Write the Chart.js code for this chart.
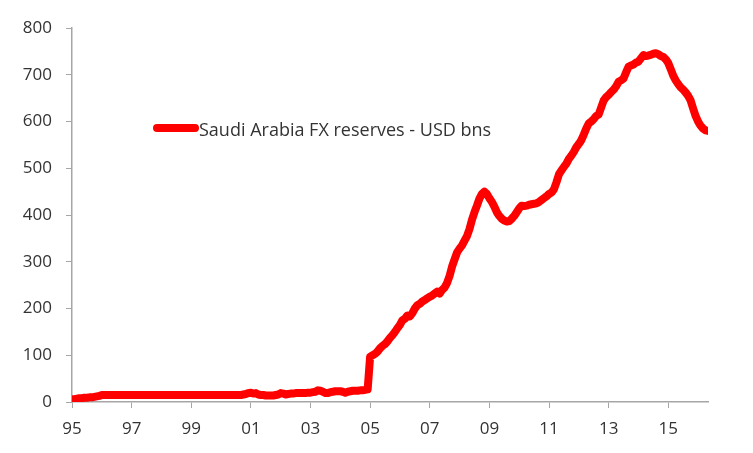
<!DOCTYPE html>
<html>
<head>
<meta charset="utf-8">
<script src="https://cdn.jsdelivr.net/npm/chart.js@4.4.0/dist/chart.umd.min.js"></script>
<style>
  html, body { margin: 0; padding: 0; background: #fff; }
  #wrap { width: 753px; height: 453px; }
</style>
</head>
<body>
<div id="wrap"><canvas id="fxChart"></canvas></div>
<script>
// Monthly reserves, Jan 1995 .. May 2016 (USD bn)
const seriesLabel = 'Saudi Arabia FX reserves - USD bns';
const reserves = [
    6, 6, 7, 8, 8, 9, 9, 10, 10, 11, 12, 13,                 // 1995
    15, 15, 15, 15, 15, 15, 15, 15, 15, 15, 15, 15,           // 1996
    15, 15, 15, 15, 15, 15, 15, 15, 15, 15, 15, 15,           // 1997
    15, 15, 15, 15, 15, 15, 15, 15, 15, 15, 15, 15,           // 1998
    15, 15, 15, 15, 15, 15, 15, 15, 15, 15, 15, 15,           // 1999
    15, 15, 15, 15, 15, 15, 15, 15, 15, 16, 17, 19,           // 2000
    20, 18, 19, 16, 15, 15, 14, 14, 14, 14, 15, 16,           // 2001
    19, 18, 16, 17, 18, 18, 19, 19, 19, 19, 19, 20,           // 2002
    20, 21, 22, 25, 24, 22, 19, 19, 21, 22, 23, 23,           // 2003
    23, 22, 20, 22, 23, 24, 24, 24, 25, 25, 26, 27,           // 2004
    97, 100, 103, 108, 115, 120, 124, 130, 137, 143, 150, 158, // 2005
    165, 175, 178, 185, 183, 190, 200, 207, 210, 215, 218, 222, // 2006
    225, 228, 232, 236, 232, 240, 245, 255, 270, 290, 305, 320, // 2007
    328, 335, 345, 355, 370, 390, 406, 420, 435, 445, 450, 445, // 2008
    436, 428, 418, 406, 398, 392, 388, 386, 387, 392, 398, 406, // 2009
    414, 420, 419, 420, 422, 423, 424, 425, 428, 432, 436, 440, // 2010
    445, 448, 455, 470, 487, 495, 503, 510, 520, 527, 535, 545, // 2011
    552, 560, 572, 585, 596, 600, 605, 612, 615, 630, 645, 652, // 2012
    657, 663, 668, 675, 685, 688, 692, 705, 717, 720, 722, 726, // 2013
    728, 735, 742, 740, 741, 743, 745, 746, 744, 740, 738, 733, // 2014
    725, 712, 698, 688, 680, 673, 668, 662, 655, 645, 628, 612, // 2015
    600, 591, 585, 581, 580                                    // 2016
];
// x tick every 24 months, labelled with two-digit year
const xTickMonths = [0, 24, 48, 72, 96, 120, 144, 168, 192, 216, 240];
const xTickLabels = ['95', '97', '99', '01', '03', '05', '07', '09', '11', '13', '15'];
const yMax = 800;
const yStep = 100;

const axisGrey = '#a6a6a6';
const textGrey = '#333333';
const fontFamily = '"Open Sans", "Noto Sans", sans-serif';

// Legend sits inside the plot area, so draw it by hand
const insideLegend = {
    id: 'insideLegend',
    afterDraw(chart, args, opts) {
        const ctx = chart.ctx;
        const ds = chart.data.datasets[0];
        ctx.save();
        ctx.strokeStyle = ds.borderColor;
        ctx.lineWidth = ds.borderWidth;
        ctx.lineCap = 'round';
        ctx.beginPath();
        ctx.moveTo(opts.x, opts.y);
        ctx.lineTo(opts.x + opts.lineLength, opts.y);
        ctx.stroke();
        ctx.fillStyle = textGrey;
        ctx.font = opts.fontSize + 'px ' + fontFamily;
        ctx.textBaseline = 'middle';
        ctx.fillText(ds.label, opts.x + opts.lineLength + 4, opts.y + 3);
        ctx.restore();
    }
};

const ctx = document.getElementById('fxChart').getContext('2d');
new Chart(ctx, {
    type: 'line',
    data: {
        datasets: [{
            label: seriesLabel,
            data: reserves.map((v, i) => ({ x: i, y: v })),
            borderColor: '#ff0000',
            borderWidth: 8,
            borderCapStyle: 'round',
            borderJoinStyle: 'round',
            pointRadius: 0,
            tension: 0,
            fill: false
        }]
    },
    options: {
        responsive: true,
        maintainAspectRatio: false,
        animation: false,
        layout: { padding: { top: 28, right: 45, left: 0, bottom: 0 } },
        scales: {
            x: {
                type: 'linear',
                min: 0,
                max: reserves.length - 1,
                afterBuildTicks(scale) {
                    scale.ticks = xTickMonths.map(v => ({ value: v }));
                },
                afterFit(scale) { scale.height = 51; },
                ticks: {
                    callback: (v) => xTickLabels[xTickMonths.indexOf(v)],
                    color: textGrey,
                    font: { family: fontFamily, size: 17 },
                    padding: 11,
                    maxRotation: 0
                },
                grid: { drawOnChartArea: false, tickLength: 6, color: axisGrey },
                border: { color: axisGrey, width: 1.5 }
            },
            y: {
                min: 0,
                max: yMax,
                ticks: {
                    stepSize: yStep,
                    color: textGrey,
                    font: { family: fontFamily, size: 17 },
                    padding: 14
                },
                afterFit(scale) { scale.width = 72; },
                grid: { drawOnChartArea: false, tickLength: 6, color: axisGrey },
                border: { color: axisGrey, width: 1.5 }
            }
        },
        plugins: {
            legend: { display: false },
            tooltip: { enabled: false },
            insideLegend: { x: 157, y: 128, lineLength: 38, fontSize: 18 }
        }
    },
    plugins: [insideLegend]
});
</script>
</body>
</html>
